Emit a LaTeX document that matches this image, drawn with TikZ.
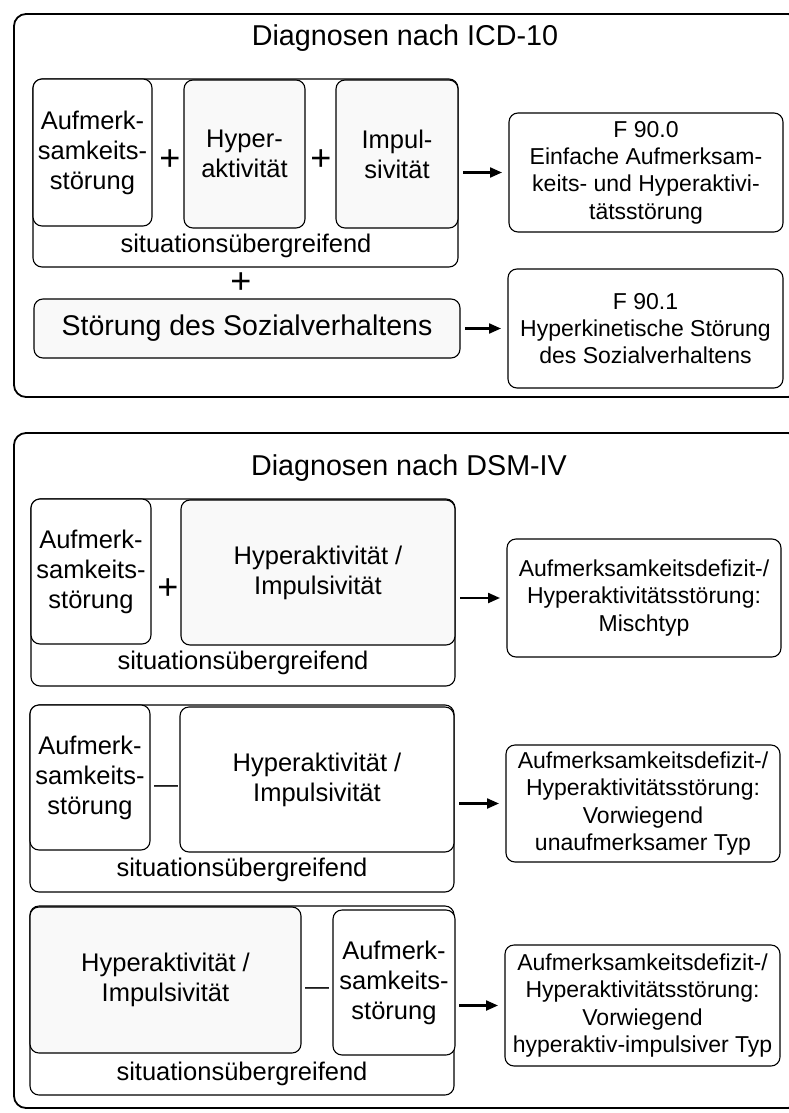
\documentclass[tikz,border=0pt]{standalone}
\usepackage{fontspec}
\setmainfont{Liberation Sans}
\usetikzlibrary{arrows.meta}
\newcommand\txtmain{\fontsize{25.5}{30}\selectfont}
\newcommand\txtres{\fontsize{23}{27.3}\selectfont}
\newcommand\txttitle{\fontsize{28.7}{32}\selectfont}
\newcommand\txtsym{\fontsize{36}{36}\selectfont}
\newcommand\txtdash{\fontsize{24}{24}\selectfont}
\begin{document}
\begin{tikzpicture}[x=1pt,y=-1pt,
  box/.style={draw, rounded corners=9pt, line width=1.1pt, inner sep=0pt, outer sep=0pt, align=center, font=\txtmain},
  greyfill/.style={fill=black!2.5},
  whitefill/.style={fill=white},
  res/.style={box, fill=white, font=\txtres},
  outerbox/.style={draw, rounded corners=12pt, line width=1.8pt, inner sep=0pt, outer sep=0pt},
  sym/.style={inner sep=0pt, font=\txtsym},
  dashsym/.style={inner sep=0pt, font=\txtdash},
  lbl/.style={inner sep=0pt, font=\txtmain},
  arr/.style={-{Triangle[length=12pt,width=10pt]}, line width=2.2pt, shorten <=5pt, shorten >=7pt},
  ttl/.style={inner sep=0pt, font=\txttitle}]
\useasboundingbox (0,0) rectangle (789,1113);
\clip (0,0) rectangle (789,1113);

% ---------------- ICD-10 ----------------
\node[outerbox, minimum width=786pt, minimum height=383pt] (outer1) at (407,205.5) {};
\node[ttl] (title1) at (405,38) {Diagnosen nach ICD-10};

\node[box, whitefill, minimum width=425pt, minimum height=188pt] (grp1) at (245.5,173) {};
\node[box, whitefill, minimum width=119pt, minimum height=147pt] (a1) at (92.5,152.5) {Aufmerk-\\samkeits-\\störung};
\node[box, greyfill, minimum width=121pt, minimum height=148pt] (h1) at (244.5,154) {Hyper-\\aktivität};
\node[box, greyfill, minimum width=122pt, minimum height=148pt] (i1) at (397,154) {Impul-\\sivität};
\node[sym] (p1) at (170,160) {+};
\node[sym] (p2) at (321,160) {+};
\node[lbl] (sit1) at (246,246) {situationsübergreifend};
\node[sym] (p3) at (241,283) {+};
\node[box, greyfill, minimum width=426pt, minimum height=59pt, font=\fontsize{28.5}{32}\selectfont] (soz) at (247,328.5) {Störung des Sozialverhaltens};

\node[res, minimum width=274pt, minimum height=119pt] (r1) at (646,172.5) {F 90.0\\Einfache Aufmerksam-\\keits- und Hyperaktivi-\\tätsstörung};
\node[res, minimum width=275pt, minimum height=119pt] (r2) at (645.5,328.5) {F 90.1\\Hyperkinetische Störung\\des Sozialverhaltens};

\draw[arr] (grp1.east |- r1.west) -- (r1.west);
\draw[arr] (soz.east |- r2.west) -- (r2.west);

% ---------------- DSM-IV ----------------
\node[outerbox, minimum width=786pt, minimum height=675pt] (outer2) at (407,770.5) {};
\node[ttl] (title2) at (409,468) {Diagnosen nach DSM-IV};

% row 1
\node[box, whitefill, minimum width=424pt, minimum height=187pt] (grp2) at (243,592.5) {};
\node[box, whitefill, minimum width=120pt, minimum height=145pt] (a2) at (91,571.5) {Aufmerk-\\samkeits-\\störung};
\node[box, greyfill, minimum width=274pt, minimum height=145pt] (hy2) at (318,572.5) {Hyperaktivität /\\Impulsivität};
\node[sym] (p4) at (168,589) {+};
\node[lbl] (sit2) at (243,663) {situationsübergreifend};
\node[res, minimum width=274pt, minimum height=118pt] (r3) at (644,598) {Aufmerksamkeitsdefizit-/\\Hyperaktivitätsstörung:\\Mischtyp};
\draw[arr] (grp2.east |- r3.west) -- (r3.west);

% row 2
\node[box, whitefill, minimum width=424pt, minimum height=187pt] (grp3) at (242,798.5) {};
\node[box, whitefill, minimum width=120pt, minimum height=145pt] (a3) at (90,777.5) {Aufmerk-\\samkeits-\\störung};
\node[box, whitefill, minimum width=274pt, minimum height=145pt] (hy3) at (317,779.5) {Hyperaktivität /\\Impulsivität};
\node[dashsym] (m1) at (166,789) {—};
\node[lbl] (sit3) at (242,870) {situationsübergreifend};
\node[res, minimum width=274pt, minimum height=117pt] (r4) at (643,803.5) {Aufmerksamkeitsdefizit-/\\Hyperaktivitätsstörung:\\Vorwiegend\\unaufmerksamer Typ};
\draw[arr] (grp3.east |- r4.west) -- (r4.west);

% row 3
\node[box, whitefill, minimum width=424pt, minimum height=189pt] (grp4) at (242,1000.5) {};
\node[box, greyfill, minimum width=271pt, minimum height=146pt] (hy4) at (165.5,980) {Hyperaktivität /\\Impulsivität};
\node[box, whitefill, minimum width=122pt, minimum height=145pt] (a4) at (394,982.5) {Aufmerk-\\samkeits-\\störung};
\node[dashsym] (m2) at (317,991) {—};
\node[lbl] (sit4) at (242,1074) {situationsübergreifend};
\node[res, minimum width=275pt, minimum height=121pt] (r5) at (642.5,1005.5) {Aufmerksamkeitsdefizit-/\\Hyperaktivitätsstörung:\\Vorwiegend\\hyperaktiv-impulsiver Typ};
\draw[arr] (grp4.east |- r5.west) -- (r5.west);
\end{tikzpicture}
\end{document}
